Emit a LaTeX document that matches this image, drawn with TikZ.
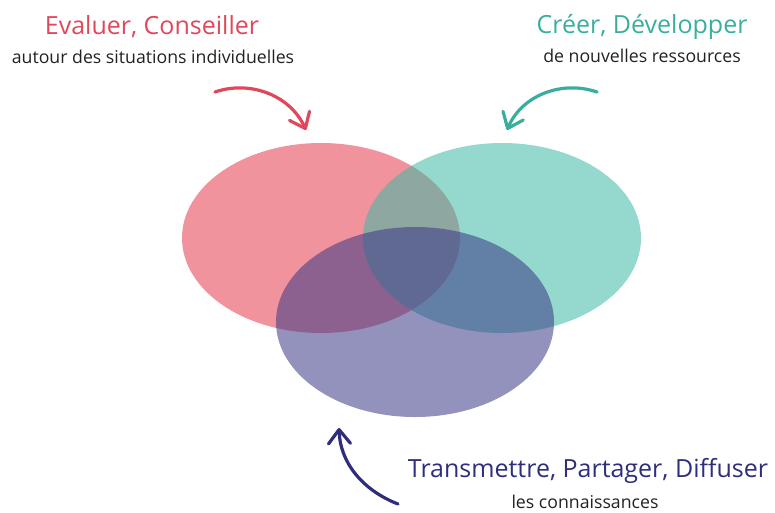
\documentclass[tikz,border=0pt]{standalone}
\usepackage{fontspec}
\setmainfont{Open Sans}
\usetikzlibrary{shapes.geometric,arrows.meta}
\definecolor{cred}{HTML}{E84B5C}
\definecolor{cteal}{HTML}{3DB8A5}
\definecolor{cpurp}{HTML}{3A3886}
\definecolor{tred}{HTML}{E0475A}
\definecolor{tteal}{HTML}{3AAE9E}
\definecolor{tpurp}{HTML}{2F2E7C}
\definecolor{tdark}{HTML}{222222}
\begin{document}
\begin{tikzpicture}[x=1pt,y=-1pt,
  blob/.style={ellipse,inner sep=0pt,minimum width=278pt,minimum height=190pt,fill opacity=0.6},
  title/.style={font=\fontsize{25}{28}\selectfont,inner sep=0pt},
  sub/.style={font=\fontsize{17.7}{20}\selectfont,text=tdark,inner sep=0pt},
  arr/.style={line width=3.2pt,line cap=round,-{Straight Barb[length=14pt,width=22pt,line width=3.2pt,round]}}]
\useasboundingbox (0,0) rectangle (775,512);
\node[blob,fill=cred] (r) at (321,238) {};
\node[blob,fill=cteal,fill opacity=0.55] (t) at (502,238) {};
\node[blob,fill=cpurp,fill opacity=0.55] (p) at (415,322) {};
\node[title,text=tred] (rt) at (152,27) {Evaluer, Conseiller};
\node[sub] (rs) at (153,57) {autour des situations individuelles};
\node[title,text=tteal] (tt) at (642,27) {Créer, Développer};
\node[sub] (ts) at (642,56) {de nouvelles ressources};
\node[title,text=tpurp] (pt) at (588,471) {Transmettre, Partager, Diffuser};
\node[sub] (ps) at (585,502) {les connaissances};
\coordinate (ra) at (215,92);
\coordinate (rb) at (306,130);
\coordinate (ta) at (597,92);
\coordinate (tb) at (507,130);
\coordinate (pa) at (398,504);
\coordinate (pb) at (339,428);
\draw[arr,draw=tred] (ra) .. controls (250,80) and (290,95) .. (rb);
\draw[arr,draw=tteal] (ta) .. controls (562,80) and (522,95) .. (tb);
\draw[arr,draw=tpurp] (pa) .. controls (362,490) and (340,462) .. (pb);
\end{tikzpicture}
\end{document}
